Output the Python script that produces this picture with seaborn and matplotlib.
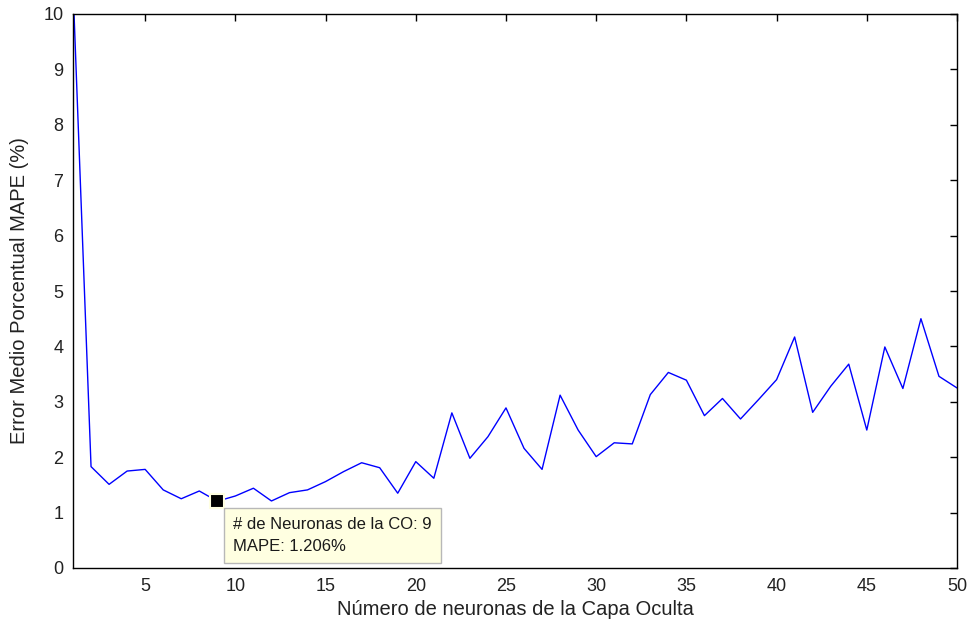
import matplotlib
matplotlib.use("Agg")
import matplotlib.pyplot as plt
import seaborn as sns
import pandas as pd

neuronas = list(range(1, 51))
mape = [10.5, 1.83, 1.51, 1.75, 1.78, 1.41, 1.25, 1.39, 1.206, 1.30,
        1.44, 1.21, 1.36, 1.41, 1.56, 1.74, 1.90, 1.81, 1.35, 1.92,
        1.62, 2.80, 1.98, 2.37, 2.89, 2.16, 1.78, 3.12, 2.49, 2.01,
        2.26, 2.24, 3.13, 3.53, 3.39, 2.75, 3.06, 2.69, 3.04, 3.40,
        4.17, 2.81, 3.28, 3.68, 2.49, 3.99, 3.24, 4.50, 3.46, 3.25]
x_ticks = [5, 10, 15, 20, 25, 30, 35, 40, 45, 50]
y_ticks = list(range(0, 11))
tip_n = 9
tip_v = 1.206

sns.set_style("white")
plt.rcParams['font.family'] = ['Liberation Sans', 'DejaVu Sans']

df = pd.DataFrame({"n": neuronas, "mape": mape})

fig = plt.figure(figsize=(9.69, 6.26), dpi=100)
ax = fig.add_axes([73/969, 1 - 568/626, (957-73)/969, (568-14)/626])
sns.lineplot(data=df, x="n", y="mape", ax=ax, color="#0000ff", linewidth=1.0)

ax.set_xlim(1, 50)
ax.set_ylim(0, 10)
ax.set_xticks(x_ticks)
ax.set_yticks(y_ticks)
ax.tick_params(direction="in", top=True, right=True, length=5, width=1,
               labelsize=13, colors="black", labelcolor="#222222", pad=7)
for s in ax.spines.values():
    s.set_color("black")
    s.set_linewidth(1.0)
ax.set_xlabel("Número de neuronas de la Capa Oculta", fontsize=14.5,
              labelpad=4, color="#222222")
ax.set_ylabel("Error Medio Porcentual MAPE (%)", fontsize=14.5,
              labelpad=10, color="#222222")

ax.plot([tip_n], [tip_v], marker="s", markersize=9.5, color="black",
        markeredgecolor="#ffffe1", markeredgewidth=1.5, zorder=5,
        clip_on=False)
ax.annotate(f"# de Neuronas de la CO: {tip_n}\nMAPE: {tip_v:.3f}%",
            xy=(tip_n, tip_v), xytext=(16, -16), textcoords="offset pixels",
            ha="left", va="top", fontsize=12, linespacing=1.55,
            color="#1a1a1a",
            bbox=dict(boxstyle="square,pad=0.55", fc="#ffffe1", ec="#b8b8b8", lw=1),
            zorder=6)

fig.savefig("out.png", dpi=100)
